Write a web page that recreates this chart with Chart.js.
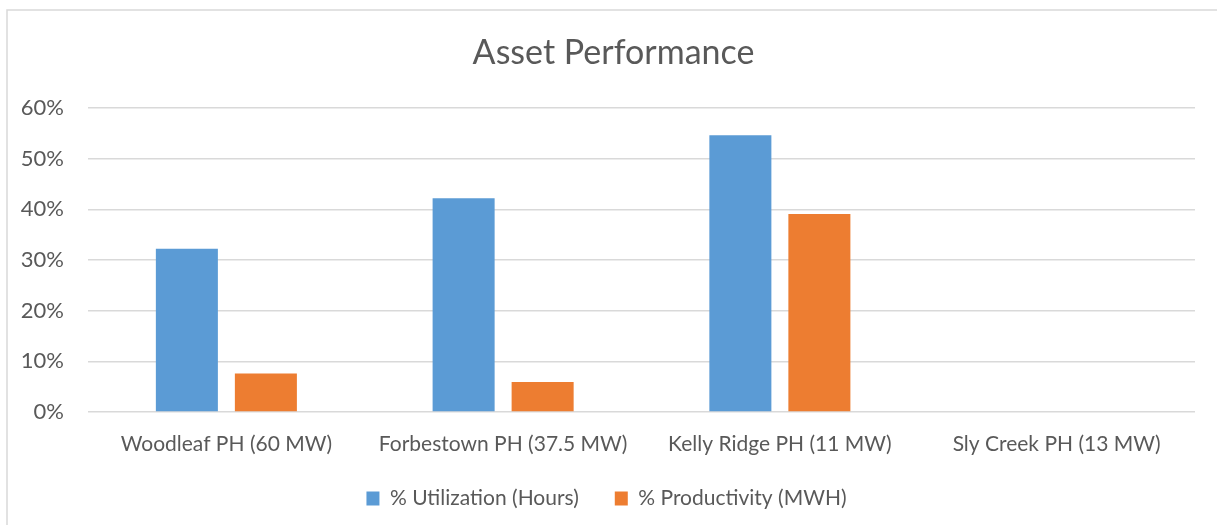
<!DOCTYPE html>
<html>
<head>
<meta charset="utf-8">
<script src="https://cdn.jsdelivr.net/npm/chart.js@4/dist/chart.umd.min.js"></script>
<style>
html,body{margin:0;padding:0;background:#fff;}
#wrap{position:relative;width:1217px;height:525px;}
</style>
</head>
<body>
<div id="wrap"><canvas id="c" width="1217" height="525"></canvas></div>
<script>
const categories = ["Woodleaf PH (60 MW)", "Forbestown PH (37.5 MW)", "Kelly Ridge PH (11 MW)", "Sly Creek PH (13 MW)"];
const utilization = [32.2, 42.2, 54.6, 0];
const productivity = [7.6, 5.9, 39.1, 0];
const seriesNames = ["% Utilization (Hours)", "% Productivity (MWH)"];
const yTicks = [0, 10, 20, 30, 40, 50, 60];

const FONT = "Lato, 'Open Sans', sans-serif";
const TXT = "#595959";
const LEGEND_SHIFT_Y = -24;
const LEGEND_SHIFT_X = 9;
const TITLE_SHIFT_X = 16;

const framePlugin = {
  id: 'frame',
  beforeDraw(chart) {
    const ctx = chart.ctx;
    ctx.save();
    ctx.fillStyle = '#fff';
    ctx.fillRect(0, 0, chart.width, chart.height);
    ctx.strokeStyle = '#d9d9d9';
    ctx.lineWidth = 1.5;
    ctx.beginPath();
    ctx.moveTo(7, chart.height);
    ctx.lineTo(7, 10);
    ctx.lineTo(chart.width, 10);
    ctx.stroke();
    ctx.restore();
  },
  afterLayout(chart) {
    const lg = chart.legend;
    if (lg) {
      lg.top += LEGEND_SHIFT_Y; lg.bottom += LEGEND_SHIFT_Y;
      lg.left += LEGEND_SHIFT_X; lg.right += LEGEND_SHIFT_X;
    }
    const tb = chart.titleBlock;
    if (tb) { tb.left += TITLE_SHIFT_X; tb.right += TITLE_SHIFT_X; }
  }
};

new Chart(document.getElementById('c'), {
  type: 'bar',
  data: {
    labels: categories,
    datasets: [
      { label: seriesNames[0], data: utilization, backgroundColor: '#5B9BD5', categoryPercentage: 0.571, barPercentage: 0.785 },
      { label: seriesNames[1], data: productivity, backgroundColor: '#ED7D31', categoryPercentage: 0.571, barPercentage: 0.785 }
    ]
  },
  options: {
    responsive: false,
    animation: false,
    layout: { padding: { left: 0, right: 22, top: 0, bottom: -18 } },
    plugins: {
      title: {
        display: true,
        text: 'Asset Performance',
        color: TXT,
        font: { family: FONT, size: 34, weight: 'normal' },
        padding: { top: 33, bottom: 34.2 }
      },
      legend: {
        position: 'bottom',
        labels: {
          boxWidth: 13, boxHeight: 14, color: TXT, padding: 36,
          font: { family: FONT, size: 21 }
        }
      },
      tooltip: { enabled: false }
    },
    scales: {
      x: {
        grid: { display: false, drawTicks: false },
        border: { display: false },
        ticks: { color: TXT, font: { family: FONT, size: 21 }, padding: 19.4, maxRotation: 0 }
      },
      y: {
        min: 0, max: 60,
        afterFit(scale) { scale.width = 88; },
        afterBuildTicks(scale) { scale.ticks = yTicks.map(v => ({ value: v })); },
        grid: { color: '#d9d9d9', lineWidth: 1.5, drawTicks: false },
        border: { display: false },
        ticks: { color: TXT, font: { family: FONT, size: 22 }, padding: 24, callback: v => v + '%' }
      }
    }
  },
  plugins: [framePlugin]
});
</script>
</body>
</html>
